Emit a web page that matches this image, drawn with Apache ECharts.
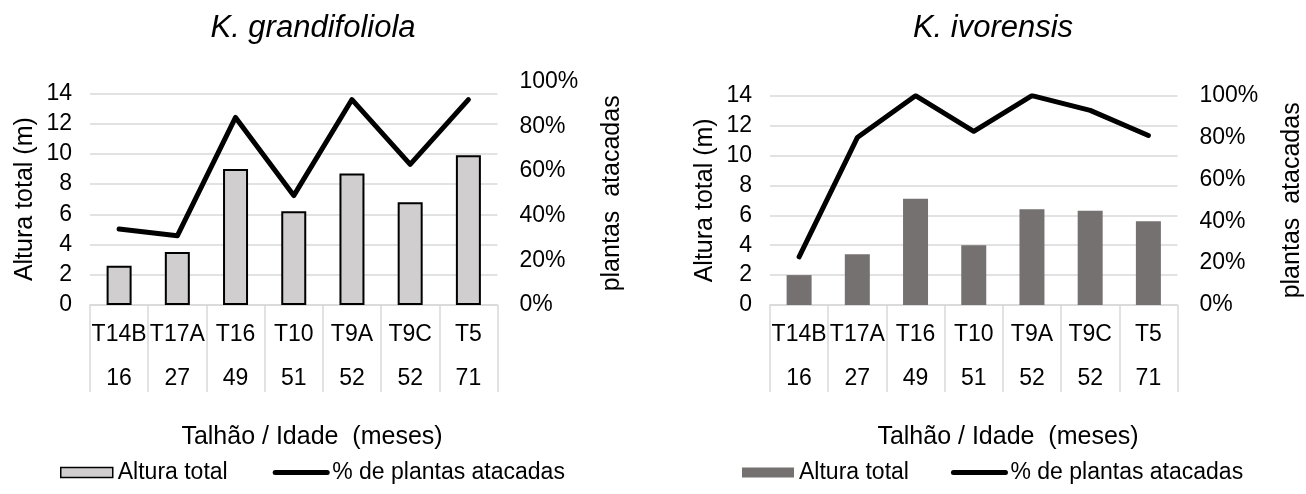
<!DOCTYPE html>
<html>
<head>
<meta charset="utf-8">
<script src="https://cdn.jsdelivr.net/npm/echarts@6/dist/echarts.min.js"></script>
<style>
html,body{margin:0;padding:0;background:#fff;}
#chart{width:1306px;height:494px;}
</style>
</head>
<body>
<div id="chart"></div>
<script>
// ---- data ----
var categories = ['T14B', 'T17A', 'T16', 'T10', 'T9A', 'T9C', 'T5'];
var ages = ['16', '27', '49', '51', '52', '52', '71'];
var grandHeight = [2.6, 3.5, 9.0, 6.2, 8.7, 6.8, 9.9];
var grandAttack = [34, 31, 84, 49, 92, 63, 92];
var ivorHeight = [2.0, 3.4, 7.1, 4.0, 6.4, 6.3, 5.6];
var ivorAttack = [23, 80, 100, 83, 100, 93, 81];
var heightTicks = [0, 14, 2];
var percentTicks = [0, 100, 20];

var FONT = "'Liberation Sans', Arial, sans-serif";
var GRID_COLOR = '#d9d9d9';

function catAxis(gridIndex, show) {
  return {
    type: 'category', gridIndex: gridIndex, data: categories, show: show,
    axisLine: {show: true, lineStyle: {color: GRID_COLOR, width: 1.5}},
    axisTick: {show: true, interval: 0, length: 87, lineStyle: {color: GRID_COLOR, width: 1.5}},
    axisLabel: {
      interval: 0, margin: 8, color: '#000', fontSize: 23, fontFamily: FONT, lineHeight: 44,
      formatter: function (v, i) { return v + '\n' + ages[i]; }
    }
  };
}
function heightAxis(gridIndex) {
  return {
    type: 'value', gridIndex: gridIndex, min: heightTicks[0], max: heightTicks[1], interval: heightTicks[2],
    name: 'Altura total (m)', nameLocation: 'middle', nameRotate: 90, nameGap: 52,
    nameTextStyle: {fontSize: 25, fontFamily: FONT, color: '#000'},
    axisLine: {show: false}, axisTick: {show: false},
    axisLabel: {color: '#000', fontSize: 23, fontFamily: FONT, margin: 18},
    splitLine: {lineStyle: {color: GRID_COLOR, width: 1.5}}
  };
}
function pctAxis(gridIndex) {
  return {
    type: 'value', gridIndex: gridIndex, position: 'right',
    min: percentTicks[0], max: percentTicks[1], interval: percentTicks[2],
    name: 'plantas  atacadas', nameLocation: 'middle', nameRotate: 90, nameGap: 102,
    nameTextStyle: {fontSize: 25, fontFamily: FONT, color: '#000'},
    axisLine: {show: false}, axisTick: {show: false}, splitLine: {show: false},
    axisLabel: {color: '#000', fontSize: 23, fontFamily: FONT, margin: 22, formatter: '{value}%'}
  };
}
var lineStyle = {color: '#000', width: 5, cap: 'round', join: 'round'};
var hiddenSymbol = {color: 'rgba(0,0,0,0)', borderWidth: 0, opacity: 0};

var option = {
  animation: false,
  grid: [
    {left: 90, width: 407.5, top: 93.3, height: 211.7},
    {left: 90, width: 407.5, top: 81.7, height: 223.3},
    {left: 770, width: 407.5, top: 95.7, height: 209.3}
  ],
  xAxis: [catAxis(0, true), catAxis(1, false), catAxis(2, true)],
  yAxis: [heightAxis(0), pctAxis(1), heightAxis(2), pctAxis(2)],
  legend: [
    {
      left: 60, top: 461, padding: 0, itemWidth: 52, itemHeight: 10, itemGap: 45,
      textStyle: {fontSize: 23, fontFamily: FONT, color: '#000'},
      data: [
        {name: 'Altura total', icon: 'rect', itemStyle: {color: '#d0cece', borderColor: '#000', borderWidth: 1.5}},
        {name: '% de plantas atacadas', lineStyle: lineStyle, itemStyle: hiddenSymbol}
      ]
    },
    {
      left: 742, top: 461, padding: 0, itemWidth: 52, itemHeight: 10, itemGap: 42,
      textStyle: {fontSize: 23, fontFamily: FONT, color: '#000'},
      data: [
        {name: 'Altura total', icon: 'rect', itemStyle: {color: '#767171', borderWidth: 0}},
        {name: '% de plantas atacadas', lineStyle: lineStyle, itemStyle: hiddenSymbol}
      ]
    }
  ],
  graphic: [
    {type: 'text', x: 313, y: 28, style: {text: 'K. grandifoliola', fontSize: 31, fontStyle: 'italic', fontFamily: FONT, fill: '#000', align: 'center', verticalAlign: 'middle'}},
    {type: 'text', x: 993, y: 28, style: {text: 'K. ivorensis', fontSize: 31, fontStyle: 'italic', fontFamily: FONT, fill: '#000', align: 'center', verticalAlign: 'middle'}},
    {type: 'text', x: 312, y: 437, style: {text: 'Talhão / Idade  (meses)', fontSize: 25, fontFamily: FONT, fill: '#000', align: 'center', verticalAlign: 'middle'}},
    {type: 'text', x: 1008, y: 437, style: {text: 'Talhão / Idade  (meses)', fontSize: 25, fontFamily: FONT, fill: '#000', align: 'center', verticalAlign: 'middle'}}
  ],
  series: [
    {
      name: 'Altura total', type: 'bar', xAxisIndex: 0, yAxisIndex: 0, data: grandHeight, barWidth: 25,
      itemStyle: {color: '#d0cece', borderColor: '#000', borderWidth: 2}
    },
    {
      name: '% de plantas atacadas', type: 'line', xAxisIndex: 1, yAxisIndex: 1, data: grandAttack,
      symbol: 'none', lineStyle: lineStyle, itemStyle: {color: '#000'}
    },
    {
      name: 'Altura total', type: 'bar', xAxisIndex: 2, yAxisIndex: 2, data: ivorHeight, barWidth: 25,
      itemStyle: {color: '#767171'}
    },
    {
      name: '% de plantas atacadas', type: 'line', xAxisIndex: 2, yAxisIndex: 3, data: ivorAttack,
      symbol: 'none', lineStyle: lineStyle, itemStyle: {color: '#000'}
    }
  ]
};

var chart = echarts.init(document.getElementById('chart'), null, {renderer: 'canvas'});
chart.setOption(option);
</script>
</body>
</html>
